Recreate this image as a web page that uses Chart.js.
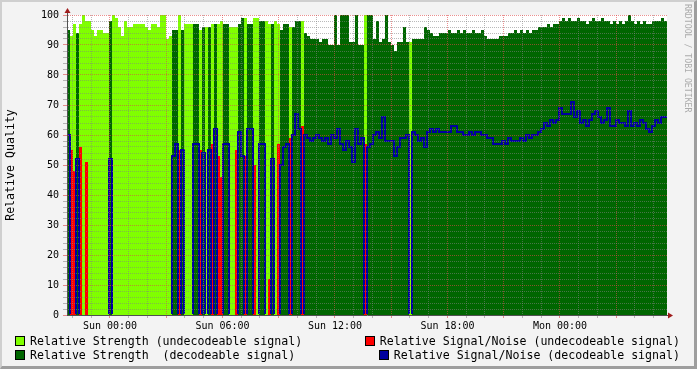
<!DOCTYPE html>
<html>
<head>
<meta charset="utf-8">
<script src="https://cdn.jsdelivr.net/npm/chart.js@4"></script>
<style>
html, body { margin: 0; padding: 0; }
body { width: 697px; height: 369px; background: #f3f3f3; position: relative; overflow: hidden; font-family: 'DejaVu Sans Mono', monospace; }
canvas { position: absolute; left: 0; top: 0; }
#frame { position: absolute; left: 0; top: 0; width: 697px; height: 369px; box-sizing: border-box; border-top: 2px solid #cfcfcf; border-left: 2px solid #cfcfcf; border-right: 3px solid #9e9e9e; border-bottom: 3px solid #9e9e9e; pointer-events: none; }
.lg { position: absolute; font-size: 11.6px; line-height: 14px; white-space: pre; color: #000; }
.sw { position: absolute; width: 8px; height: 8px; border: 1px solid #000; }
#rrd { position: absolute; left: 683px; top: 4px; writing-mode: vertical-rl; font-size: 8.2px; color: #ababab; white-space: pre; }
</style>
</head>
<body>
<canvas id="chartQuality" width="697" height="369"></canvas>
<div class="sw" style="left:15px;top:336px;background:#80ff00"></div>
<div class="lg" style="left:30px;top:334px">Relative Strength (undecodeable signal)</div>
<div class="sw" style="left:15px;top:350px;background:#006600"></div>
<div class="lg" style="left:30px;top:348px">Relative Strength  (decodeable signal)</div>
<div class="sw" style="left:365px;top:336px;background:#ff0000"></div>
<div class="lg" style="right:17px;top:334px">Relative Signal/Noise (undecodeable signal)</div>
<div class="sw" style="left:379px;top:350px;background:#0000a0"></div>
<div class="lg" style="right:17px;top:348px">Relative Signal/Noise (decodeable signal)</div>
<div id="rrd">RRDTOOL / TOBI OETIKER</div>
<div id="frame"></div>
<script>
// time axis: hours relative to Sun 00:00, one sample every 9.6 minutes
const START_HOUR = -2.293;
const SLOT_HOURS = 0.16;

const tickHours = [0, 6, 12, 18, 24];
const tickLabels = ['Sun 00:00', 'Sun 06:00', 'Sun 12:00', 'Sun 18:00', 'Mon 00:00'];

// 1 = decodeable signal, 0 = undecodeable
const decoded = [
    1,0,0,1,0,0,0,0,0,0, 0,0,0,0,1,0,0,0,0,0,
    0,0,0,0,0,0,0,0,0,0, 0,0,0,0,0,1,1,0,1,0,
    0,0,1,1,0,1,0,1,0,1, 0,0,1,1,0,0,0,1,1,0,
    1,1,0,0,1,1,0,0,1,0, 0,1,1,1,0,1,1,1,0,1,
    1,1,1,1,1,1,1,1,1,1, 1,1,1,1,1,1,1,1,1,0,
    1,1,1,1,1,1,1,1,1,1, 1,1,1,1,0,1,1,1,1,1,
    1,1,1,1,1,1,1,1,1,1, 1,1,1,1,1,1,1,1,1,1,
    1,1,1,1,1,1,1,1,1,1, 1,1,1,1,1,1,1,1,1,1,
    1,1,1,1,1,1,1,1,1,1, 1,1,1,1,1,1,1,1,1,1,
    1,1,1,1,1,1,1,1,1,1, 1,1,1,1,1,1,1,1,1,1
];

const strength = [
    95,93,97,94,97,100,98,98,95,93, 95,95,94,94,98,100,99,96,93,98,
    96,96,97,97,97,97,96,95,97,97, 96,100,100,92,93,95,95,100,95,97,
    97,97,97,97,95,96,96,96,97,97, 97,98,97,97,96,96,96,97,99,99,
    97,97,99,99,98,98,98,97,97,98, 97,95,97,97,96,96,98,98,98,94,
    93,92,92,92,91,92,92,90,90,100, 90,100,100,100,91,91,100,90,90,100,
    100,100,92,98,91,92,100,91,90,88, 91,91,96,91,91,92,92,92,92,96,
    95,94,93,93,94,94,94,95,94,94, 95,94,95,94,94,95,94,94,95,93,
    92,92,92,92,93,93,93,94,94,95, 94,95,94,95,94,95,95,96,96,96,
    97,96,97,97,98,99,98,99,98,98, 99,98,98,97,98,99,98,98,99,98,
    98,97,98,97,98,97,98,100,98,97, 98,97,98,97,97,98,98,98,99,98
];

const snr = [
    60,55,48,52,56,0,51,0,0,0, 0,0,0,0,52,0,0,0,0,0,
    0,0,0,0,0,0,0,0,0,0, 0,0,0,0,0,53,57,55,55,0,
    0,0,57,57,55,54,0,55,57,62, 53,46,57,57,0,0,55,61,53,53,
    62,62,50,0,57,57,0,12,52,0, 57,50,56,57,59,60,67,62,63,60,
    59,58,59,60,59,58,59,57,60,59, 62,57,55,58,56,51,62,57,59,57,
    56,57,60,61,59,66,58,58,58,53, 56,59,59,60,0,61,60,58,59,56,
    61,62,61,62,61,61,61,61,63,63, 61,61,60,60,61,60,61,61,60,60,
    59,59,57,57,57,58,57,59,58,58, 58,59,58,60,59,60,60,61,62,64,
    63,65,64,65,69,67,67,67,71,66, 68,64,65,63,65,67,68,66,64,65,
    69,63,63,65,64,64,63,68,63,64, 63,65,64,62,61,63,65,64,66,66
];

const FONT = 'DejaVu Sans Mono';
const GRID = 'rgba(130,130,130,0.55)';
const MGRID = 'rgba(222,70,70,0.6)';
const AXIS = '#505050';
const ARROW = '#a01c1c';

function series(pick) {
    const pts = strength.map((s, i) => ({ x: START_HOUR + i * SLOT_HOURS, y: pick(i) }));
    pts.push({ x: START_HOUR + strength.length * SLOT_HOURS, y: pts[pts.length - 1].y });
    return pts;
}

function area(label, color, pick) {
    return {
        label: label,
        data: series(pick),
        backgroundColor: color,
        borderColor: 'transparent',
        borderWidth: 0,
        pointRadius: 0,
        stepped: true,
        fill: 'origin'
    };
}

const hourGrid = [];
for (let h = -2; h <= 29; h++) hourGrid.push(h);
const valueGrid = [];
for (let v = 0; v <= 100; v += 2) valueGrid.push(v);

const canvasBack = {
    id: 'canvasBack',
    beforeDraw(chart) {
        const { ctx, chartArea: a } = chart;
        ctx.save();
        ctx.fillStyle = '#ffffff';
        ctx.fillRect(a.left, a.top, a.right - a.left, a.bottom - a.top);
        ctx.restore();
    },
    afterDraw(chart) {
        const { ctx, chartArea: a } = chart;
        const x0 = a.left + 0.5, y0 = a.bottom + 0.5;
        ctx.save();
        ctx.strokeStyle = AXIS;
        ctx.lineWidth = 1;
        ctx.beginPath();
        ctx.moveTo(x0, a.top);
        ctx.lineTo(x0, a.top - 4);
        ctx.moveTo(a.right, y0);
        ctx.lineTo(a.right + 3, y0);
        ctx.stroke();
        ctx.fillStyle = ARROW;
        ctx.beginPath();
        ctx.moveTo(x0, a.top - 7);
        ctx.lineTo(x0 - 3, a.top - 2);
        ctx.lineTo(x0 + 3, a.top - 2);
        ctx.closePath();
        ctx.fill();
        ctx.beginPath();
        ctx.moveTo(a.right + 6, y0);
        ctx.lineTo(a.right + 1, y0 - 3);
        ctx.lineTo(a.right + 1, y0 + 3);
        ctx.closePath();
        ctx.fill();
        ctx.restore();
    }
};

const config = {
    type: 'line',
    data: {
        datasets: [
            {
                label: 'Relative Signal/Noise (decodeable signal)',
                data: series(i => decoded[i] ? snr[i] : 0),
                borderColor: '#0000a0',
                borderWidth: 2,
                pointRadius: 0,
                stepped: true,
                fill: false,
                clip: { left: 0, top: 0, right: 0, bottom: -1 }
            },
            area('Relative Signal/Noise (undecodeable signal)', '#ff0000', i => decoded[i] ? 0 : snr[i]),
            area('Relative Strength  (decodeable signal)', '#006600', i => decoded[i] ? strength[i] : 0),
            area('Relative Strength (undecodeable signal)', '#80ff00', i => decoded[i] ? 0 : strength[i])
        ]
    },
    options: {
        responsive: false,
        animation: false,
        events: [],
        layout: { padding: { left: 0, right: 30, top: 15, bottom: 0 } },
        plugins: {
            legend: { display: false },
            tooltip: { enabled: false }
        },
        scales: {
            x: {
                type: 'linear',
                min: START_HOUR,
                max: START_HOUR + 32,
                afterBuildTicks: scale => { scale.ticks = hourGrid.map(v => ({ value: v })); },
                afterFit: scale => { scale.height = 54; },
                ticks: {
                    autoSkip: false,
                    maxRotation: 0,
                    padding: 2,
                    color: '#000',
                    font: { family: FONT, size: 10 },
                    callback: v => {
                        const k = tickHours.indexOf(v);
                        return k >= 0 ? tickLabels[k] : '';
                    }
                },
                grid: {
                    z: 1,
                    tickLength: 3,
                    color: c => (((c.tick && c.tick.value) % 3) + 3) % 3 === 0 ? MGRID : GRID
                },
                border: { display: true, color: AXIS, dash: [1, 1], z: 2 }
            },
            y: {
                min: 0,
                max: 100,
                afterBuildTicks: scale => { scale.ticks = valueGrid.map(v => ({ value: v })); },
                afterFit: scale => { scale.width = 67; },
                title: {
                    display: true,
                    text: 'Relative Quality',
                    color: '#000',
                    font: { family: FONT, size: 11.6 },
                    padding: { top: 4, bottom: 0 }
                },
                ticks: {
                    autoSkip: false,
                    padding: 4,
                    color: '#000',
                    font: { family: FONT, size: 10 },
                    callback: v => v % 10 === 0 ? String(v) : ''
                },
                grid: {
                    z: 1,
                    tickLength: 4,
                    color: c => c.tick && c.tick.value % 10 === 0 ? MGRID : GRID
                },
                border: { display: true, color: AXIS, dash: [1, 1], z: 2 }
            }
        }
    },
    plugins: [canvasBack]
};

const ctx = document.getElementById('chartQuality');
new Chart(ctx, config);
</script>
</body>
</html>
